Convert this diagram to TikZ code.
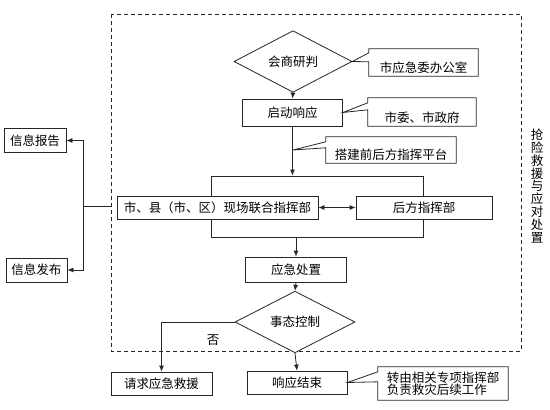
\documentclass[tikz,border=0pt]{standalone}
\usepackage{fontspec}
\setmainfont{Noto Sans CJK SC}
\usetikzlibrary{shapes.geometric,arrows.meta,calc}
\tikzset{
  ln/.style={draw=black!85, line width=0.8pt},
  box/.style={ln, fill=white, inner sep=0pt, font=\fontsize{12.5}{14}\selectfont},
  dia/.style={diamond, ln, fill=white, inner sep=0pt, font=\fontsize{12.5}{14}\selectfont},
  co/.style={inner sep=0pt, font=\fontsize{12.5}{14}\selectfont},
  arr/.style={ln, -{Latex[length=6pt,width=5pt]}},
  darr/.style={ln, {Latex[length=6pt,width=5pt]}-{Latex[length=6pt,width=5pt]}},
}
\newcommand\lowtext[2]{\raisebox{-#1}[0pt][0pt]{#2}}
\begin{document}
\begin{tikzpicture}[x=1pt,y=-1pt]
\useasboundingbox[fill=white] (0,0) rectangle (550,410);
% dashed region
\draw[ln, dash pattern=on 4pt off 3pt] (111,14) rectangle (521,351);
\node[font=\fontsize{12.5}{12.8}\selectfont, align=center, inner sep=0pt] (vl) at (537,186)
  {抢\\险\\救\\援\\与\\应\\对\\处\\置};

% top chain
\node[dia, minimum width=118pt, minimum height=37pt] (d1) at (293,61.5) {会商研判};
\node[box, minimum width=100pt, minimum height=27pt] (b1) at (292.5,112.5) {启动响应};
\draw[arr] (d1.south) -- (b1.north);

% frame around command nodes
\node[ln, minimum width=212pt, minimum height=61pt, inner sep=0pt] (fr) at (317,206.5) {};
\draw[arr] (b1.south) -- (b1.south |- fr.north);
\coordinate (p3) at (293,150);

\node[box, minimum width=201pt, minimum height=23pt] (b2) at (217.5,207.5) {市、县（市、区）现场联合指挥部};
\node[box, minimum width=136pt, minimum height=23pt] (b3) at (424,207.5) {后方指挥部};
\draw[darr] (b2.east) -- (b3.west);

\node[box, minimum width=101pt, minimum height=25pt] (b4) at (296,269.5) {应急处置};
\draw[arr] (b4.north |- fr.south) -- (b4.north);

\node[dia, minimum width=120pt, minimum height=40pt] (d2) at (295,322) {事态控制};
\draw[arr] (b4.south) -- (d2.north);

\node[box, minimum width=101pt, minimum height=23pt] (b5) at (161.5,383.5) {请求应急救援};
\node[box, minimum width=100pt, minimum height=23pt] (b6) at (297,382.5) {响应结束};
\draw[arr] (d2.west) -| (b5.north);
\node[co] (no) at (213,340) {否};
\draw[arr] (d2.south) -- (b6.north);

% callouts
\node[co, minimum width=109pt, minimum height=27pt] (c1) at (423.5,62.5) {\lowtext{10pt}{市应急委办公室}};
\draw[ln] (c1.north west) -- (c1.north east) -- (c1.south east) -- (c1.south west)
  -- ($(c1.north west)+(0,13)$) -- (d1.east) -- ($(c1.north west)+(0,4)$) -- cycle;

\node[co, minimum width=108pt, minimum height=28pt] (c2) at (422,112) {\lowtext{10pt}{市委、市政府}};
\draw[ln] (c2.north west) -- (c2.north east) -- (c2.south east) -- (c2.south west)
  -- ($(c2.north west)+(0,12)$) -- (b1.east) -- ($(c2.north west)+(0,5)$) -- cycle;

\node[co, minimum width=130pt, minimum height=26pt] (c3) at (391,150) {\lowtext{9.5pt}{搭建前后方指挥平台}};
\draw[ln] (c3.north west) -- (c3.north east) -- (c3.south east) -- (c3.south west)
  -- ($(c3.north west)+(0,11)$) -- (p3) -- ($(c3.north west)+(0,5)$) -- cycle;

\node[co, minimum width=130pt, minimum height=33pt, align=left, font=\fontsize{12.5}{12}\selectfont] (c4) at (443,383.5) {转由相关专项指挥部\\负责救灾后续工作};
\draw[ln] (c4.north west) -- (c4.north east) -- (c4.south east) -- (c4.south west)
  -- ($(c4.north west)+(0,15)$) -- (b6.east) -- ($(c4.north west)+(0,5)$) -- cycle;

% left side
\node[box, minimum width=62pt, minimum height=24pt] (l1) at (35,140.5) {信息报告};
\node[box, minimum width=61pt, minimum height=24pt] (l2) at (36.5,270) {信息发布};
\coordinate (dl) at (111,206);
\coordinate (jn) at (83,206);
\draw[ln] (dl) -- (jn);
\draw[arr] (jn) |- (l1.east);
\draw[arr] (jn) |- (l2.east);
\end{tikzpicture}
\end{document}
